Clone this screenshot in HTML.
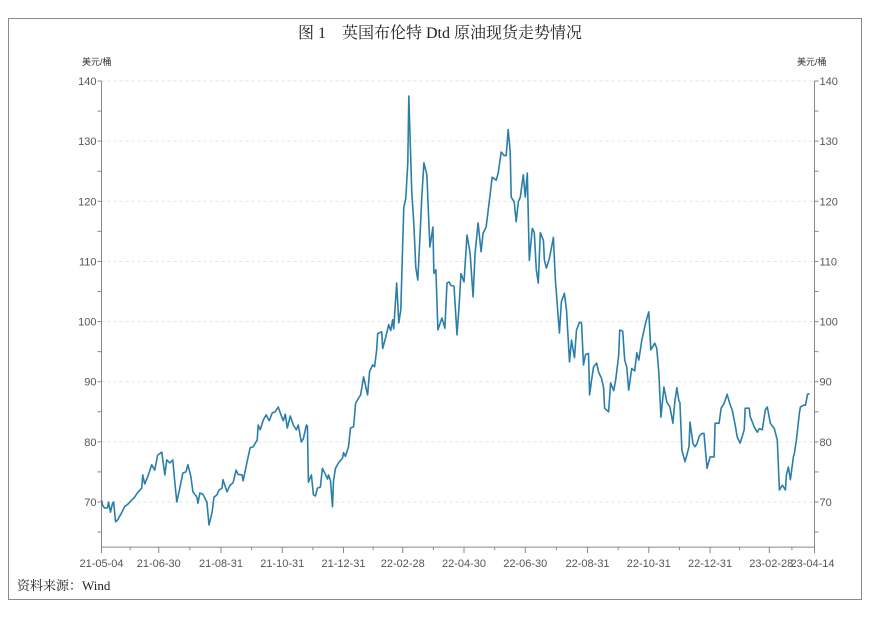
<!DOCTYPE html>
<html><head><meta charset="utf-8">
<style>
html,body{margin:0;padding:0;background:#fff;}
body{width:880px;height:619px;overflow:hidden;}
svg{display:block;}
</style></head>
<body>
<svg id="chart" width="880" height="619" xmlns="http://www.w3.org/2000/svg">
<rect x="8.5" y="18.5" width="853" height="581" fill="#fff" stroke="#8a8a8a" stroke-width="1"/>
<text x="440" y="38" text-anchor="middle" font-family="'Liberation Serif','Noto Serif CJK SC',serif" font-size="16" fill="#222">图 1　英国布伦特 Dtd 原油现货走势情况</text>
<text x="82" y="65" font-family="'Liberation Sans','Noto Sans CJK SC',sans-serif" font-size="9" fill="#333">美元/桶</text>
<text x="797" y="65" font-family="'Liberation Sans','Noto Sans CJK SC',sans-serif" font-size="9" fill="#333">美元/桶</text>
<text x="17" y="590" font-family="'Liberation Serif','Noto Serif CJK SC',serif" font-size="13" fill="#222">资料来源：Wind</text>
<g id="grid"></g><g id="axes"></g><g id="series"></g>
</svg>
<script>
const xTickLabels = ["21-05-04","21-06-30","21-08-31","21-10-31","21-12-31","22-02-28","22-04-30","22-06-30","22-08-31","22-10-31","22-12-31","23-02-28","23-04-14"];
const xTickDays = [0,57,119,180,241,300,361,422,484,545,606,665,710];
const yTicks = [70,80,90,100,110,120,130,140];
const days = [0,1,3,6,7,9,11,12,14,16,20,23,26,30,33,36,40,41,43,46,50,53,56,60,63,65,68,71,73,75,78,81,84,86,89,91,95,96,98,101,104,105,107,110,112,115,117,120,121,125,128,131,134,136,140,141,145,148,151,155,156,158,161,164,167,170,173,176,178,181,183,185,188,191,194,196,199,201,204,205,206,209,211,213,215,218,220,223,225,226,228,230,231,233,236,240,241,243,246,248,251,253,256,258,261,265,267,270,272,274,275,279,280,283,285,286,288,290,291,294,296,298,300,301,303,305,306,309,311,313,315,317,319,321,324,325,327,330,331,333,335,339,342,344,346,348,351,354,356,358,361,364,367,370,372,375,378,380,383,386,389,393,395,398,401,403,405,407,408,411,413,415,417,420,422,424,426,429,431,433,435,437,440,441,443,446,450,452,456,458,461,463,466,468,471,473,476,478,480,482,485,486,488,490,493,495,498,500,501,505,507,510,512,515,516,519,521,523,525,528,531,533,535,538,542,545,547,551,553,555,557,560,563,566,569,571,573,575,576,578,581,583,585,586,589,591,593,595,596,598,600,603,606,610,611,615,617,620,623,626,628,631,633,636,640,641,645,646,650,653,655,658,661,663,666,670,673,675,678,681,682,684,686,689,690,692,695,696,699,701,703,705,708,710,711];
const prices = [70.3,69.5,69,69,70,68.3,69.8,70,66.7,67,68.2,69.2,69.6,70.3,70.8,71.6,72.3,74.5,73,74.2,76.2,75.3,77.8,78.3,74.5,77,76.5,77,73.3,70,72.3,74.8,75,76.2,74.2,71.7,70.8,69.8,71.5,71.3,70.3,70,66.2,68.2,70.8,71.2,72,72.3,73.7,71.7,72.8,73.2,75.3,74.6,74.5,73.5,76.7,79,79.2,80.3,82.8,82,83.6,84.5,83.5,84.8,85,85.8,84.8,83.5,84.6,82.3,84.3,82.8,82,82.8,80,80.5,82.8,82.6,73.3,74.5,71.2,71,72.3,72.5,75.6,74.6,73.8,74.5,73.5,69.2,73.5,75.6,76.5,77.3,78.2,77.6,79.2,82.3,82.5,86.4,87.3,87.8,90.8,87.8,91.7,92.8,92.5,95.3,98,98.3,95.5,97.4,98.8,99.5,98.5,100.3,98.8,106.4,99.8,101.9,113.5,119,120.5,126.4,137.5,121.4,116.4,109,106.9,113.5,120.7,126.4,124.4,120.2,112.4,115.7,108,108.6,98.6,100.6,98.9,106.4,106.6,106,105.9,97.8,102.4,108,106.6,114.4,111.4,104.1,111.4,116.4,111.6,114.7,115.7,119.7,124,123.5,124.7,128.2,127.6,127.6,131.9,128.2,120.7,119.9,116.6,119.9,120.7,124.4,120.7,124.7,110.2,115.5,114.8,108.6,106.4,114.8,113.5,110.2,108.9,110.5,114,106.9,98.1,103.3,104.7,101.9,93.3,96.9,94,98.6,99.9,99.8,92.8,94.5,94.7,87.8,90.3,92.5,93.1,91.6,90.5,89,85.6,85,89.8,88.5,90.3,94.4,98.6,98.4,93.6,92.5,88.6,92.2,91.8,94.8,93.6,96.9,99.9,101.6,95.3,96.4,95.5,91.6,84.1,89.1,86.6,85.8,83.1,86.8,89,86.8,86.6,78.6,76.7,77.9,79.2,83.3,79.7,79.2,79.7,80.8,81.1,81.4,81.4,75.6,77.5,77.5,83.1,83.1,85.6,86.4,87.9,86.2,85.3,82.8,80.8,79.8,82,85.6,85.6,84.2,82.5,81.6,82.2,82,85.3,85.8,83.1,82.2,80.3,72,72.8,72,74.5,75.8,73.7,77.5,78.1,80.3,84.8,85.8,86.1,86.1,87.9,88];

const NS = "http://www.w3.org/2000/svg";
const X0 = 101.5, X1 = 814.5, Y140 = 81, Y70 = 502, YMIN = 62.5;
const xMax = 710;
function xScale(d){ return X0 + d/xMax*(X1-X0); }
function yScale(v){ return Y70 - (v-70)*(Y70-Y140)/70; }
const yBase = yScale(YMIN);
function mk(tag, attrs, parent){ const e=document.createElementNS(NS,tag); for(const k in attrs) e.setAttribute(k,attrs[k]); parent.appendChild(e); return e; }
const grid=document.getElementById('grid'), axes=document.getElementById('axes'), series=document.getElementById('series');
const font="'Liberation Sans','DejaVu Sans',sans-serif";

yTicks.forEach(v=>{
  const y=yScale(v);
  const g=mk('line',{x1:X0,x2:X1,y1:y,y2:y,stroke:'#e2e2e2','stroke-dasharray':'3,3','stroke-width':1},grid);
  
  
  const tl=mk('text',{x:X0-5,y:y+4,'text-anchor':'end','font-family':font,'font-size':11,fill:'#555'},axes);
  tl.textContent=v;
  
  
  const tr=mk('text',{x:X1+5,y:y+4,'text-anchor':'start','font-family':font,'font-size':11,fill:'#555'},axes);
  tr.textContent=v;
  
  
});
for(let v=65; v<=140; v+=5){
  const y=yScale(v);
  const l1=mk('line',{x1:X0-4,x2:X0,y1:y,y2:y,stroke:'#888'},axes);
  
  
  const l2=mk('line',{x1:X1,x2:X1+4,y1:y,y2:y,stroke:'#888'},axes);
  
  
}
const la=mk('line',{x1:X0,x2:X0,y1:Y140,y2:yBase,stroke:'#888'},axes);


const ra=mk('line',{x1:X1,x2:X1,y1:Y140,y2:yBase,stroke:'#888'},axes);


const xa=mk('line',{x1:X0,x2:X1,y1:yBase,y2:yBase,stroke:'#888'},axes);


xTickDays.forEach((d,i)=>{
  const x=xScale(d);
  const t=mk('line',{x1:x,x2:x,y1:yBase,y2:yBase+6,stroke:'#888'},axes);
  
  
  if(i<xTickDays.length-1){
    const mx=xScale((d+xTickDays[i+1])/2);
    const m=mk('line',{x1:mx,x2:mx,y1:yBase,y2:yBase+3,stroke:'#888'},axes);
    
    
  }
  let anchor='middle', xx=x;
  if(i===xTickLabels.length-2){ anchor='end'; xx=x+24; }
  if(i===xTickLabels.length-1){ anchor='start'; xx=x-24; }
  const lb=mk('text',{x:xx,y:yBase+20,'text-anchor':anchor,'font-family':font,'font-size':11,fill:'#555'},axes);
  lb.textContent=xTickLabels[i];
  
  
});
const pts=days.map((d,i)=>xScale(d).toFixed(1)+','+yScale(prices[i]).toFixed(1)).join(' ');
const pl=mk('polyline',{points:pts,fill:'none',stroke:'#2a7fa8','stroke-width':1.6,'stroke-linejoin':'round'},series);


</script>
</body></html>
